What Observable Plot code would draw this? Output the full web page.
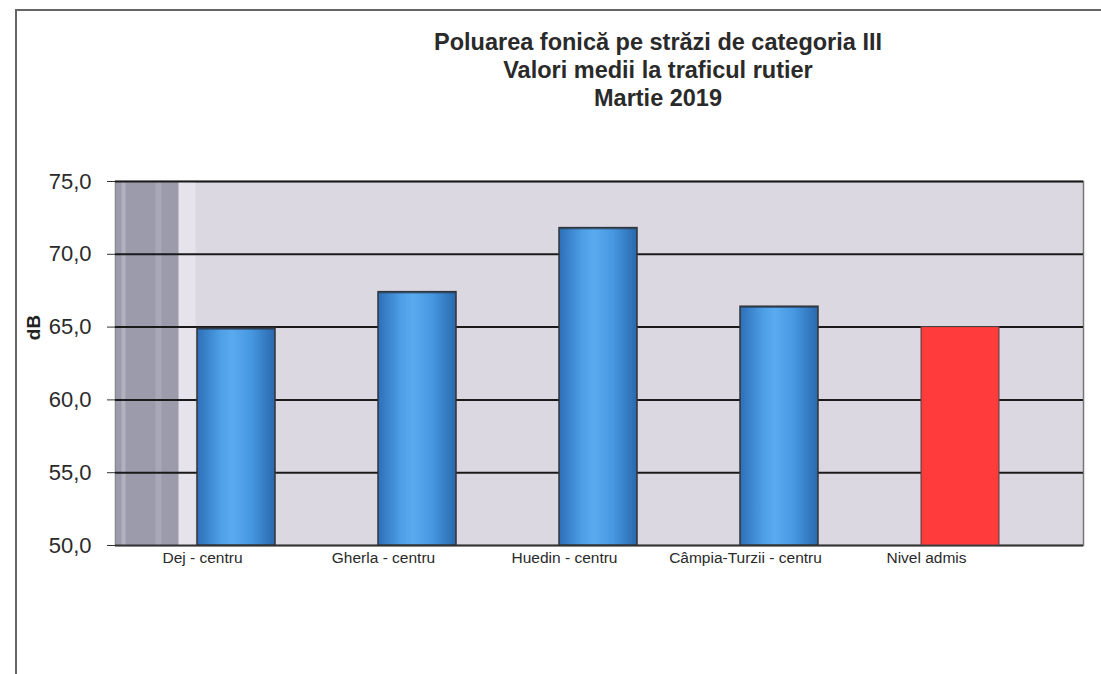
<!DOCTYPE html>
<html>
<head>
<meta charset="utf-8">
<script src="https://cdn.jsdelivr.net/npm/d3@7"></script>
<script src="https://cdn.jsdelivr.net/npm/@observablehq/plot@0.6"></script>
<style>
  body { margin: 0; background: #fff; font-family: "Liberation Sans", Arial, sans-serif; }
  #wrap { position: relative; width: 1101px; height: 674px; overflow: hidden; background: #fff; }
  #border { position: absolute; left: 15px; top: 9px; width: 1200px; height: 800px; border-left: 2px solid #666; border-top: 2px solid #666; }
  #title { position: absolute; left: 208px; width: 900px; top: 28px; text-align: center; font-weight: bold; font-size: 23.5px; line-height: 28px; color: #2a2a2a; }
  #chart { position: absolute; left: 0; top: 130px; }
</style>
</head>
<body>
<div id="wrap">
  <div id="border"></div>
  <div id="title">Poluarea fonică pe străzi de categoria III<br>Valori medii la traficul rutier<br>Martie 2019</div>
  <div id="chart"></div>
</div>
<script>
const categories = ["Dej - centru", "Gherla - centru", "Huedin - centru", "Câmpia-Turzii - centru", "Nivel admis"];
const values = [64.9, 67.4, 71.8, 66.4, 65.0];
const yTicks = [50, 55, 60, 65, 70, 75];
const yLabel = "dB";

const data = categories.map((c, i) => ({cat: c, value: values[i], limit: c === "Nivel admis"}));

const W = 1101, H = 544;
const frameW = 1083 - 115;

const chart = Plot.plot({
  width: W,
  height: H,
  marginLeft: 115,
  marginRight: 18,
  marginTop: 51,
  marginBottom: 129,
  insetLeft: 30,
  insetRight: 33,
  style: {fontFamily: '"Liberation Sans", Arial, sans-serif', color: "#2a2a2a", background: "transparent"},
  x: {domain: categories, paddingInner: 0.57, paddingOuter: 0.285},
  y: {domain: [50, 75]},
  marks: [
    Plot.frame({fill: "#dcd8e2", stroke: "#777", strokeWidth: 1.5}),
    Plot.frame({fill: "#e6e3ec", insetLeft: 60, insetRight: frameW - 80}),
    Plot.frame({fill: "#9b9bab", insetRight: frameW - 63}),
    Plot.frame({fill: "#b2b1c0", insetLeft: 6, insetRight: frameW - 10}),
    Plot.frame({fill: "#a9a8b8", insetLeft: 40, insetRight: frameW - 46}),
    Plot.ruleY(yTicks.filter(d => d > 50), {stroke: "#1a1a1a", strokeWidth: 2}),
    Plot.ruleY([50], {stroke: "#333", strokeWidth: 2}),
    Plot.barY(data.filter(d => !d.limit), {x: "cat", y1: 50, y2: "value", fill: "url(#cyl)", stroke: "#333", strokeWidth: 1.5}),
    Plot.barY(data.filter(d => !d.limit), {x: "cat", y1: d => d.value - 0.12, y2: "value", fill: "#2c3e55", fillOpacity: 0.7}),
    Plot.barY(data.filter(d => d.limit), {x: "cat", y1: 50, y2: "value", fill: "#ff3b3b", stroke: "#444", strokeWidth: 1}),
    Plot.axisY({ticks: yTicks, tickFormat: d => d.toFixed(1).replace(".", ","), tickSize: 8, tickPadding: 16, fontSize: 22, label: null, stroke: "#333"}),
    Plot.axisX({dx: -34, tickSize: 0, tickPadding: 6, fontSize: 15.5, label: null}),
    Plot.text([yLabel], {frameAnchor: "left", textAnchor: "middle", dx: -82, dy: -36, rotate: -90, fontSize: 19, fontWeight: "bold", fill: "#222"})
  ]
});

const ns = "http://www.w3.org/2000/svg";
const defs = document.createElementNS(ns, "defs");
const grad = document.createElementNS(ns, "linearGradient");
grad.setAttribute("id", "cyl");
grad.setAttribute("x1", "0"); grad.setAttribute("x2", "1");
grad.setAttribute("y1", "0"); grad.setAttribute("y2", "0");
[["0%", "#2d6fb8"], ["30%", "#4d9fe6"], ["45%", "#5aaaef"], ["70%", "#4597e0"], ["100%", "#2a68ad"]].forEach(([o, c]) => {
  const s = document.createElementNS(ns, "stop");
  s.setAttribute("offset", o); s.setAttribute("stop-color", c);
  grad.appendChild(s);
});
defs.appendChild(grad);
chart.insertBefore(defs, chart.firstChild);

document.getElementById("chart").appendChild(chart);
</script>
</body>
</html>
